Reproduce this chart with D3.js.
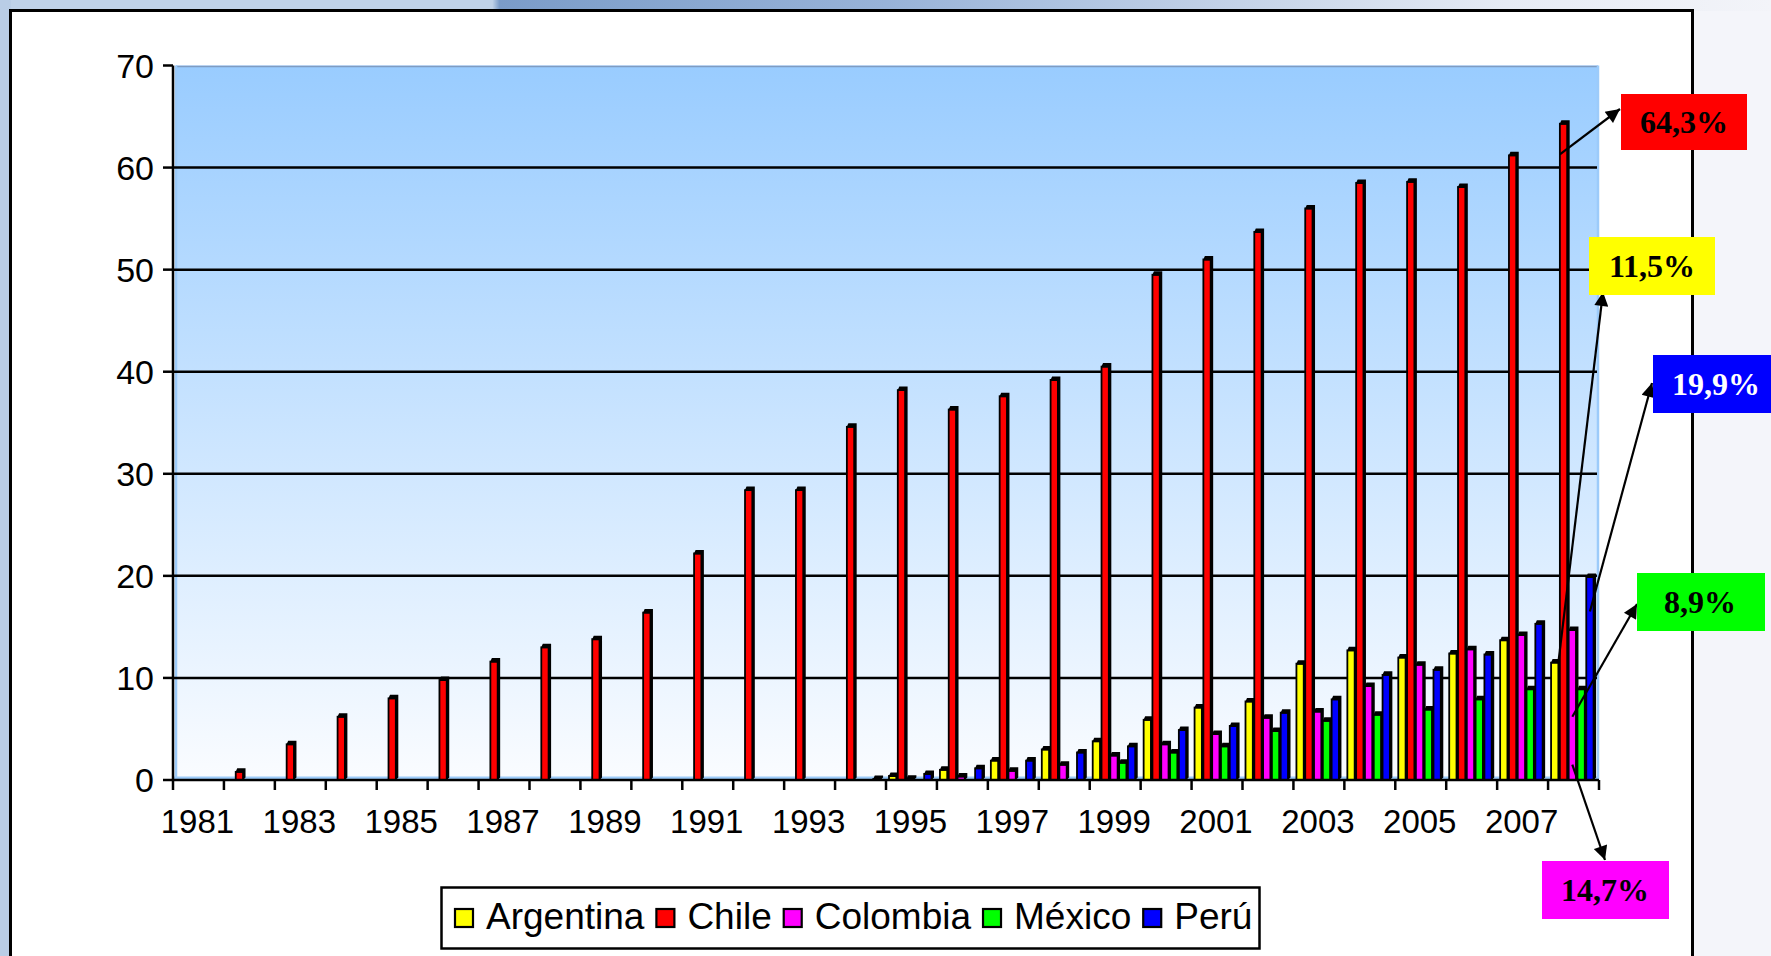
<!DOCTYPE html>
<html>
<head>
<meta charset="utf-8">
<script src="https://d3js.org/d3.v7.min.js"></script>
<style>
  body { margin: 0; background: #f4f5fa; }
  svg text { font-family: "Liberation Sans", Arial, sans-serif; }
</style>
</head>
<body>
<script>
// data (1981 - 2008)
var years = [1981, 1982, 1983, 1984, 1985, 1986, 1987, 1988, 1989, 1990,
             1991, 1992, 1993, 1994, 1995, 1996, 1997, 1998, 1999, 2000,
             2001, 2002, 2003, 2004, 2005, 2006, 2007, 2008];
var argentina = [0, 0, 0, 0, 0, 0, 0, 0, 0, 0, 0, 0, 0, 0, 0.4, 1.0, 1.9, 3.0, 3.8, 5.9,
                 7.1, 7.7, 11.4, 12.7, 12.0, 12.4, 13.7, 11.5];
var chile = [0, 0.8, 3.5, 6.2, 8.0, 9.8, 11.6, 13.0, 13.8, 16.4, 22.2, 28.4, 28.4, 34.6, 38.2, 36.3,
             37.6, 39.2, 40.5, 49.5, 51.0, 53.7, 56.0, 58.5, 58.6, 58.1, 61.2, 64.3];
var colombia = [0, 0, 0, 0, 0, 0, 0, 0, 0, 0, 0, 0, 0, 0, 0.13, 0.35, 0.9, 1.5, 2.4, 3.5,
                4.5, 6.1, 6.7, 9.2, 11.3, 12.8, 14.2, 14.7];
var mexico = [0, 0, 0, 0, 0, 0, 0, 0, 0, 0, 0, 0, 0, 0, 0, 0, 0, 0, 1.7, 2.7,
              3.3, 4.8, 5.8, 6.4, 6.9, 7.9, 8.9, 8.9];
var peru = [0, 0, 0, 0, 0, 0, 0, 0, 0, 0, 0, 0, 0, 0.1, 0.6, 1.15, 1.9, 2.7, 3.3, 4.9,
            5.3, 6.6, 7.9, 10.3, 10.8, 12.3, 15.3, 19.9];
var seriesNames = ["Argentina", "Chile", "Colombia", "México", "Perú"];
var seriesColors = ["#ffff00", "#ff0000", "#ff00ff", "#00ff00", "#0000ff"];
var seriesValues = [argentina, chile, colombia, mexico, peru];
var yTicks = [0, 10, 20, 30, 40, 50, 60, 70];
var xTickLabels = [1981, 1983, 1985, 1987, 1989, 1991, 1993, 1995, 1997, 1999, 2001, 2003, 2005, 2007];
var calloutLabels = ["64,3%", "11,5%", "19,9%", "8,9%", "14,7%"];

var W = 1771, H = 956;
var plotLeft = 173, plotRight = 1599, plotTop = 65.5, plotBase = 780;

var svg = d3.select("body").append("svg")
    .attr("width", W)
    .attr("height", H);

var defs = svg.append("defs");
var topGrad = defs.append("linearGradient").attr("id", "topstrip");
topGrad.append("stop").attr("offset", 0).attr("stop-color", "#bfd2e9");
topGrad.append("stop").attr("offset", 0.278).attr("stop-color", "#bfd2e9");
topGrad.append("stop").attr("offset", 0.282).attr("stop-color", "#7b9cc9");
topGrad.append("stop").attr("offset", 0.5).attr("stop-color", "#98b3d8");
topGrad.append("stop").attr("offset", 0.85).attr("stop-color", "#e6ebf4");
topGrad.append("stop").attr("offset", 1).attr("stop-color", "#f3f4f9");

var plotGrad = defs.append("linearGradient").attr("id", "plotbg")
    .attr("x1", 0).attr("y1", 0).attr("x2", 0).attr("y2", 1);
plotGrad.append("stop").attr("offset", 0).attr("stop-color", "#99ccff");
plotGrad.append("stop").attr("offset", 1).attr("stop-color", "#fafcff");

defs.append("marker")
    .attr("id", "arrow")
    .attr("viewBox", "0 -5 10 10")
    .attr("refX", 10)
    .attr("refY", 0)
    .attr("markerUnits", "userSpaceOnUse")
    .attr("markerWidth", 16)
    .attr("markerHeight", 14)
    .attr("orient", "auto")
    .append("path")
    .attr("d", "M0,-5L10,0L0,5Z")
    .attr("fill", "#000");

// slide background
svg.append("rect").attr("width", W).attr("height", H).attr("fill", "#f4f5fa");
svg.append("rect").attr("width", W).attr("height", 11).attr("fill", "url(#topstrip)");
svg.append("rect").attr("width", 11).attr("height", H).attr("fill", "#b9cde6");
svg.append("rect")
    .attr("x", 10.5).attr("y", 10.5)
    .attr("width", 1682).attr("height", 1000)
    .attr("fill", "#fff")
    .attr("stroke", "#000")
    .attr("stroke-width", 3);

// scales
var x0 = d3.scaleBand().domain(years).range([plotLeft, plotRight]);
var x1 = d3.scaleBand().domain(d3.range(seriesNames.length)).range([3, 47]);
var y = d3.scaleLinear().domain([0, 70]).range([plotBase, plotTop]);
var bw = x1.bandwidth() - 1.5;

// plot area
svg.append("rect")
    .attr("x", plotLeft + 3).attr("y", plotTop)
    .attr("width", plotRight - plotLeft - 4).attr("height", plotBase - plotTop)
    .attr("fill", "url(#plotbg)");
svg.append("line")
    .attr("x1", plotLeft + 3).attr("x2", plotRight - 1)
    .attr("y1", plotTop + 1).attr("y2", plotTop + 1)
    .attr("stroke", "#7f9cc2").attr("stroke-width", 1.5);
svg.append("line")
    .attr("x1", plotLeft + 3).attr("x2", plotLeft + 3)
    .attr("y1", plotTop).attr("y2", plotBase)
    .attr("stroke", "#9ccbfa").attr("stroke-width", 2.5);
svg.append("line")
    .attr("x1", plotRight - 1).attr("x2", plotRight - 1)
    .attr("y1", plotTop).attr("y2", plotBase)
    .attr("stroke", "#9ccbfa").attr("stroke-width", 2.5);
svg.append("line")
    .attr("x1", plotLeft).attr("x2", plotRight)
    .attr("y1", plotBase - 2).attr("y2", plotBase - 2)
    .attr("stroke", "#9ccbfa").attr("stroke-width", 3);

// gridlines
svg.append("g").selectAll("line")
    .data(yTicks.filter(function (d) { return d > 0 && d < 70; }))
    .enter().append("line")
    .attr("x1", plotLeft).attr("x2", plotRight - 2)
    .attr("y1", function (d) { return y(d); })
    .attr("y2", function (d) { return y(d); })
    .attr("stroke", "#000").attr("stroke-width", 2.5);

// bars, drawn with a little 3d top and side
var groups = svg.append("g").selectAll("g")
    .data(years)
    .enter().append("g")
    .attr("transform", function (d) { return "translate(" + x0(d) + ",0)"; });

groups.each(function (yr, i) {
    var g = d3.select(this);
    seriesValues.forEach(function (vals, s) {
        var v = vals[i];
        if (!v) return;
        var bx = x1(s), by = y(v);
        g.append("rect")
            .attr("x", bx).attr("y", by)
            .attr("width", bw).attr("height", plotBase - by)
            .attr("fill", seriesColors[s])
            .attr("stroke", "#000").attr("stroke-width", 1.8);
        g.append("path")
            .attr("d", "M" + (bx - 0.5) + "," + (by + 1) + "L" + (bx + 1.5) + "," + (by - 3.5) + "L" + (bx + bw + 2.5) + "," + (by - 3.5) +
                "L" + (bx + bw + 2.5) + "," + (plotBase - 2.5) + "L" + (bx + bw) + "," + plotBase + "L" + (bx + bw) + "," + (by + 1) + "Z")
            .attr("fill", "#000");
    });
});

// axes
var yAxis = svg.append("g");
yAxis.append("line")
    .attr("x1", plotLeft).attr("x2", plotLeft)
    .attr("y1", y(70)).attr("y2", plotBase)
    .attr("stroke", "#000").attr("stroke-width", 2.5);
yAxis.selectAll(".tick")
    .data(yTicks)
    .enter().append("line")
    .attr("x1", plotLeft - 10).attr("x2", plotLeft)
    .attr("y1", function (d) { return y(d); })
    .attr("y2", function (d) { return y(d); })
    .attr("stroke", "#000").attr("stroke-width", 2.5);
yAxis.selectAll("text")
    .data(yTicks)
    .enter().append("text")
    .attr("x", 154)
    .attr("y", function (d) { return y(d) + 12; })
    .attr("text-anchor", "end")
    .style("font-size", "34px")
    .text(function (d) { return d; });

var xAxis = svg.append("g");
xAxis.append("line")
    .attr("x1", plotLeft).attr("x2", plotRight)
    .attr("y1", plotBase).attr("y2", plotBase)
    .attr("stroke", "#000").attr("stroke-width", 2.5);
xAxis.selectAll(".tick")
    .data(years.concat([null]))
    .enter().append("line")
    .attr("x1", function (d) { return d === null ? plotRight : x0(d); })
    .attr("x2", function (d) { return d === null ? plotRight : x0(d); })
    .attr("y1", plotBase).attr("y2", plotBase + 10)
    .attr("stroke", "#000").attr("stroke-width", 2.5);
xAxis.selectAll("text")
    .data(xTickLabels)
    .enter().append("text")
    .attr("x", function (d) { return x0(d) + x0.bandwidth() / 2 - 1; })
    .attr("y", 833)
    .attr("text-anchor", "middle")
    .style("font-size", "33px")
    .text(function (d) { return d; });

// legend
var legend = svg.append("g");
legend.append("rect")
    .attr("x", 441.5).attr("y", 887.5)
    .attr("width", 818).attr("height", 61)
    .attr("fill", "#fff")
    .attr("stroke", "#000").attr("stroke-width", 2.5);
var lx = 455;
seriesNames.forEach(function (name, s) {
    legend.append("rect")
        .attr("x", lx).attr("y", 909)
        .attr("width", 18).attr("height", 18)
        .attr("fill", seriesColors[s])
        .attr("stroke", "#000").attr("stroke-width", 2.2);
    var t = legend.append("text")
        .attr("x", lx + 31).attr("y", 929)
        .style("font-size", "37px")
        .text(name);
    lx += 31 + t.node().getComputedTextLength() + 12;
});

// callouts for 2008; arrows start on the 2008 bars
var last = years[years.length - 1];
var callouts = [
    { s: 1, bar: 1, at: 0, v: 61.3, box: [1621, 94, 126, 56], ink: "#000", tip: [1620, 109] },
    { s: 0, bar: 0, at: 1, v: 11.5, box: [1589, 237, 126, 58], ink: "#000", tip: [1603, 292] },
    { s: 4, bar: 4, at: 0.5, v: 16.5, box: [1653, 355, 130, 58], ink: "#fff", tip: [1652, 383] },
    { s: 3, bar: 2, at: 0.5, v: 6.2, box: [1637, 573, 128, 58], ink: "#000", tip: [1637, 604] },
    { s: 2, bar: 2, at: 0.5, v: 1.5, box: [1542, 861, 127, 58], ink: "#000", tip: [1605, 860] }
];
callouts.forEach(function (c, i) {
    var fx = x0(last) + x1(c.bar) + bw * c.at;
    svg.append("line")
        .attr("x1", fx).attr("y1", y(c.v))
        .attr("x2", c.tip[0]).attr("y2", c.tip[1])
        .attr("stroke", "#000").attr("stroke-width", 2.2)
        .attr("marker-end", "url(#arrow)");
    svg.append("rect")
        .attr("x", c.box[0]).attr("y", c.box[1])
        .attr("width", c.box[2]).attr("height", c.box[3])
        .attr("fill", seriesColors[c.s]);
    svg.append("text")
        .attr("x", c.box[0] + 63).attr("y", c.box[1] + c.box[3] / 2 + 11)
        .attr("text-anchor", "middle")
        .attr("fill", c.ink)
        .style("font-family", "'Liberation Serif', 'Times New Roman', serif")
        .style("font-weight", "bold")
        .style("font-size", "32px")
        .text(calloutLabels[i]);
});
</script>
</body>
</html>
